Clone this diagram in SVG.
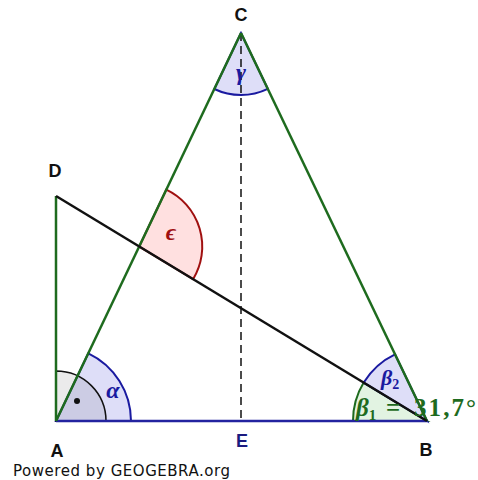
<svg xmlns="http://www.w3.org/2000/svg" width="478" height="480" viewBox="0 0 478 480">
<style>
.lbl{font-family:"Liberation Sans",Arial,sans-serif;font-size:18px;font-weight:bold;text-anchor:middle;fill:#111}
.math{font-family:"Liberation Serif","Times New Roman",serif;font-style:italic;font-weight:bold}
.green{stroke:#1e6b1e;stroke-width:2.5;fill:none}
</style>
<rect width="478" height="480" fill="#fff"/>
<g id="angles">
  <g id="angle-alpha"><path d="M56,421 L131,421 A75,75 0 0 0 88.3,353.3 Z" fill="#dedef8" stroke="#1a1aa0" stroke-width="2"/></g>
  <g id="angle-right"><path d="M56,421 L106,421 A50,50 0 0 0 56,371 Z" fill="rgba(0,0,0,0.08)" stroke="#111" stroke-width="1.5"/><circle cx="77" cy="401" r="3" fill="#111"/></g>
  <g id="angle-beta1"><path d="M427,421 L353,421 A74,74 0 0 1 363.7,382.6 Z" fill="#e2f3e2" stroke="#1e6b1e" stroke-width="2"/></g>
  <g id="angle-beta2"><path d="M427,421 L363.7,382.6 A74,74 0 0 1 395,354.3 Z" fill="#dedef8" stroke="#1a1aa0" stroke-width="2"/></g>
  <g id="angle-gamma"><path d="M241,33 L214.3,89 A62,62 0 0 0 267.8,88.9 Z" fill="#dedef8" stroke="#1a1aa0" stroke-width="2"/></g>
  <g id="angle-eps"><path d="M139.2,246.5 L166.3,189.6 A63,63 0 0 1 193.1,279.2 Z" fill="#ffe0e0" stroke="#a01010" stroke-width="2"/></g>
</g>
<g id="connectors">
  <line x1="241" y1="33" x2="241" y2="421" stroke="#111" stroke-width="1.5" stroke-dasharray="8,5"/>
  <line x1="56" y1="421" x2="427" y2="421" stroke="#2323a0" stroke-width="2.5"/>
  <line x1="56" y1="421" x2="241" y2="33" class="green"/>
  <line x1="427" y1="421" x2="241" y2="33" class="green"/>
  <line x1="56" y1="421" x2="56" y2="196" class="green"/>
  <line x1="56" y1="196" x2="427" y2="421" stroke="#111" stroke-width="2.5"/>
</g>
<g id="A"><text class="lbl" x="57" y="457">A</text></g>
<g id="B"><text class="lbl" x="426" y="456">B</text></g>
<g id="C"><text class="lbl" x="241" y="21">C</text></g>
<g id="D"><text class="lbl" x="55" y="177">D</text></g>
<g id="E"><text class="lbl" x="242" y="447" style="fill:#1a1a80">E</text></g>
<g id="labels">
  <text class="math" x="113" y="398" font-size="24" fill="#1a1aa0" text-anchor="middle">α</text>
  <text class="math" x="241" y="80" font-size="24" fill="#1a1aa0" text-anchor="middle">γ</text>
  <text class="math" x="171" y="240" font-size="24" fill="#a01010" text-anchor="middle">ϵ</text>
  <text class="math" x="381" y="385" font-size="22" fill="#1a1aa0">β<tspan font-size="14" dy="4" font-style="normal">2</tspan></text>
  <text x="356" y="416" font-size="25" fill="#1e6b1e" font-family="Liberation Serif,serif" font-weight="bold"><tspan font-style="italic">β</tspan><tspan font-size="15" dy="4">1</tspan><tspan x="386" dy="-4" textLength="22">=</tspan><tspan x="414" textLength="62">31,7°</tspan></text>
  <text x="13" y="476" font-family="DejaVu Sans,Verdana,sans-serif" font-size="15" fill="#111" textLength="217">Powered by GEOGEBRA.org</text>
</g>
</svg>
